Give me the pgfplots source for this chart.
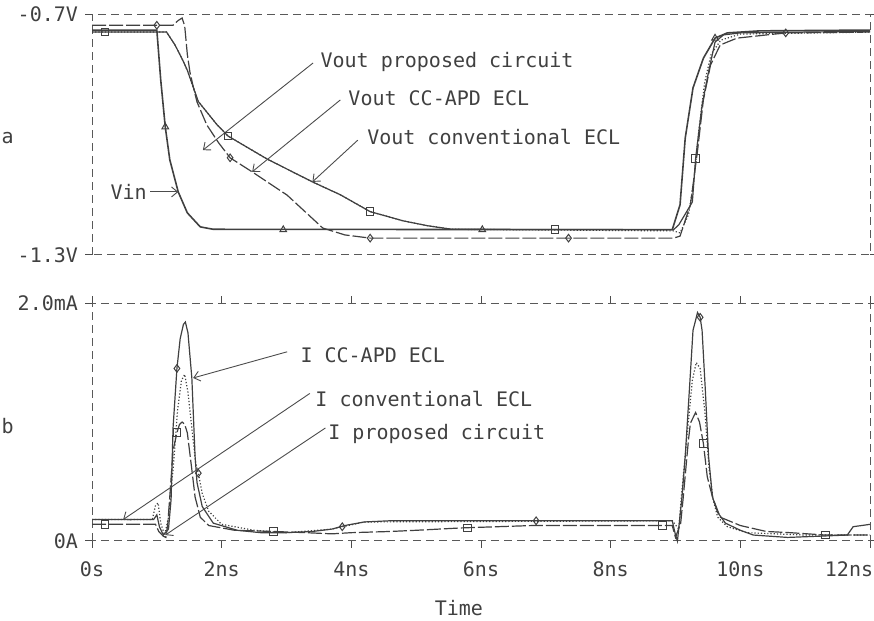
\documentclass[border=0pt]{standalone}
\usepackage{fontspec}
\setmainfont{DejaVu Sans Mono}
\usepackage{pgfplots}
\pgfplotsset{compat=1.18}
\usetikzlibrary{arrows.meta}

\newcommand{\psfont}{\fontsize{10}{12}\selectfont}

\pgfplotsset{
  psp/.style={
    scale only axis, width=389pt, xmin=0, xmax=12, clip=false,
    anchor=south west,
    axis line style={draw=none},
    tick align=outside, major tick length=3.5pt,
    tick style={black!70, line width=0.5pt},
    ticklabel style={font=\psfont, text=black!75},
  },
}
\tikzset{
  trace/.style={black!75, line width=0.6pt},
  pts/.style={black!75, mark size=1.9pt,
    mark options={solid, line width=0.5pt, fill=white}},
  lbl/.style={anchor=base west, inner sep=0pt, font=\psfont, text=black!75},
  ann/.style={black!70, line width=0.45pt, -{Straight Barb[length=3pt,width=5pt]}},
}

\begin{document}
\begin{tikzpicture}
\useasboundingbox (0,0) rectangle (437pt,310.5pt);

% ---- panel a : voltages
\begin{axis}[psp, at={(46pt,183pt)}, height=120.5pt,
  ymin=-1.3, ymax=-0.7, xtick=\empty,
  ytick={-1.3,-0.7}, yticklabels={-1.3V,-0.7V}]
\draw[black!65, line width=0.5pt, dash pattern=on 4pt off 2.5pt]
  (rel axis cs:0,0) rectangle (rel axis cs:1,1);

% Vin
\addplot[trace, mark=none, line width=0.8pt] coordinates {
 (0,-0.740) (1.00,-0.740) (1.06,-0.864) (1.13,-0.981) (1.20,-1.063)
 (1.33,-1.143) (1.47,-1.195) (1.67,-1.230) (1.87,-1.236) (8.95,-1.237)
 (9.07,-1.175) (9.15,-1.009) (9.27,-0.884) (9.43,-0.810) (9.61,-0.760)
 (9.80,-0.747) (10.3,-0.742) (12,-0.740)};
\addplot[pts, only marks, mark=triangle] coordinates {
 (1.13,-0.981) (2.95,-1.237) (6.02,-1.237) (9.61,-0.760)};

% Vout (squares)
\addplot[trace, mark=none] coordinates {
 (0,-0.745) (1.15,-0.745) (1.28,-0.777) (1.40,-0.815) (1.47,-0.840)
 (1.64,-0.918) (1.93,-0.976) (2.10,-1.004) (2.70,-1.061) (3.40,-1.118)
 (3.83,-1.150) (4.29,-1.192) (4.80,-1.215) (5.17,-1.227) (5.55,-1.236)
 (8.97,-1.237) (9.05,-1.225) (9.18,-1.190) (9.26,-1.168) (9.31,-1.060)
 (9.41,-0.927) (9.51,-0.844) (9.61,-0.770) (9.74,-0.752) (10.0,-0.747)
 (12,-0.743)};
\addplot[pts, only marks, mark=square] coordinates {
 (0.2,-0.745) (2.10,-1.004) (4.29,-1.192) (7.14,-1.237) (9.31,-1.060)};

% Vout (diamonds)
\addplot[trace, mark=none, dash pattern=on 7pt off 1.5pt] coordinates {
 (0,-0.728) (1.25,-0.728) (1.33,-0.716) (1.39,-0.710) (1.43,-0.730)
 (1.47,-0.800) (1.51,-0.844) (1.56,-0.880) (1.62,-0.919) (1.77,-0.976)
 (1.95,-1.020) (2.13,-1.058) (2.47,-1.093) (3.01,-1.151) (3.56,-1.233)
 (3.90,-1.250) (4.29,-1.258) (8.97,-1.258) (9.07,-1.253) (9.23,-1.175)
 (9.34,-1.040) (9.43,-0.914) (9.54,-0.827) (9.69,-0.777) (9.95,-0.760)
 (10.7,-0.747) (12,-0.745)};
\addplot[pts, only marks, mark=diamond] coordinates {
 (1.0,-0.728) (2.13,-1.058) (4.29,-1.258) (7.35,-1.258) (10.7,-0.747)};

% Vout (dotted)
\addplot[trace, mark=none, densely dotted] coordinates {
 (0,-0.745) (1.15,-0.745) (1.28,-0.777) (1.40,-0.815) (1.47,-0.840)
 (1.64,-0.918) (1.93,-0.976) (2.10,-1.004) (2.70,-1.061) (3.40,-1.118)
 (3.83,-1.150) (4.29,-1.192) (4.80,-1.215) (5.17,-1.227) (5.55,-1.236)
 (8.97,-1.240) (9.07,-1.245) (9.20,-1.200) (9.28,-1.120) (9.36,-0.990)
 (9.45,-0.870) (9.55,-0.800) (9.70,-0.765) (10.0,-0.750) (12,-0.745)};

\node[lbl] at (axis cs:3.52,-0.834) {Vout proposed circuit};
\node[lbl] at (axis cs:3.95,-0.929) {Vout CC-APD ECL};
\node[lbl] at (axis cs:4.24,-1.026) {Vout conventional ECL};
\node[lbl] at (axis cs:0.28,-1.163) {Vin};
\draw[ann] (axis cs:3.41,-0.822) -- (axis cs:1.71,-1.039);
\draw[ann] (axis cs:3.83,-0.914) -- (axis cs:2.47,-1.093);
\draw[ann] (axis cs:4.10,-1.014) -- (axis cs:3.40,-1.118);
\draw[ann] (axis cs:0.90,-1.143) -- (axis cs:1.33,-1.143);
\node[font=\psfont, text=black!75] at (axis cs:-1.30,-1.009) {a};
\end{axis}

% ---- panel b : currents
\begin{axis}[psp, at={(46pt,40pt)}, height=119pt,
  ymin=0, ymax=2, ytick={0,2}, yticklabels={0A,2.0mA},
  xtick={0,2,4,6,8,10}, xticklabels={0s,2ns,4ns,6ns,8ns,10ns},
  extra x ticks={12}, extra x tick labels={12ns},
  extra x tick style={xticklabel style={xshift=-10.5pt}},
  xticklabel style={yshift=-3.5pt}]
\draw[black!65, line width=0.5pt, dash pattern=on 4pt off 2.5pt]
  (rel axis cs:0,0) rectangle (rel axis cs:1,1);

% I CC-APD (diamonds)
\addplot[trace, mark=none] coordinates {
 (0,0.18) (0.95,0.18) (1.00,0.22) (1.04,0.12) (1.10,0.05) (1.18,0.10)
 (1.22,0.35) (1.25,0.95) (1.31,1.45) (1.36,1.70) (1.41,1.82) (1.44,1.84)
 (1.48,1.75) (1.54,1.37) (1.59,0.71) (1.62,0.49) (1.70,0.29) (1.87,0.15)
 (2.24,0.09) (2.60,0.07) (3.00,0.07) (3.40,0.08) (3.70,0.10) (3.90,0.13)
 (4.20,0.16) (4.60,0.17) (8.95,0.17) (9.00,0.05) (9.03,0.00) (9.10,0.37)
 (9.15,0.71) (9.23,1.41) (9.27,1.77) (9.34,1.92) (9.38,1.88) (9.41,1.77)
 (9.46,1.27) (9.51,0.71) (9.57,0.37) (9.65,0.24) (9.77,0.15) (10.0,0.09)
 (10.2,0.05) (10.73,0.03) (11.2,0.04) (11.65,0.05) (11.74,0.12) (12,0.14)};
\addplot[pts, only marks, mark=diamond] coordinates {
 (1.31,1.45) (3.86,0.12) (6.85,0.17) (9.38,1.88)};

% I proposed (squares)
\addplot[trace, mark=none, dash pattern=on 7pt off 1.5pt] coordinates {
 (0,0.14) (0.98,0.14) (1.03,0.08) (1.10,0.04) (1.14,0.03) (1.17,0.15)
 (1.21,0.45) (1.25,0.76) (1.31,0.91) (1.35,0.98) (1.39,1.00) (1.43,0.98)
 (1.47,0.91) (1.54,0.60) (1.59,0.37) (1.67,0.20) (1.80,0.13) (2.20,0.09)
 (2.80,0.08) (3.30,0.07) (3.70,0.06) (4.00,0.07) (4.60,0.08) (5.00,0.09)
 (5.70,0.11) (6.80,0.13) (8.95,0.13) (9.00,0.03) (9.08,0.15) (9.12,0.37)
 (9.20,0.85) (9.23,0.99) (9.31,1.08) (9.37,1.00) (9.43,0.82) (9.49,0.54)
 (9.57,0.37) (9.69,0.20) (10.0,0.13) (10.4,0.08) (10.77,0.07) (11.31,0.05)
 (12,0.05)};
\addplot[pts, only marks, mark=square] coordinates {
 (0.2,0.14) (1.31,0.91) (2.80,0.08) (5.79,0.11) (8.80,0.13) (9.43,0.82)
 (11.31,0.05)};

% I conventional (dotted)
\addplot[trace, mark=none, densely dotted] coordinates {
 (0,0.18) (0.93,0.18) (0.98,0.30) (1.02,0.32) (1.06,0.15) (1.12,0.05)
 (1.18,0.20) (1.25,0.60) (1.32,1.10) (1.38,1.35) (1.43,1.40) (1.48,1.25)
 (1.54,0.95) (1.60,0.65) (1.64,0.57) (1.70,0.40) (1.80,0.25) (2.00,0.14)
 (2.50,0.09) (3.00,0.07) (3.70,0.10) (4.20,0.16) (8.95,0.17) (9.05,0.10)
 (9.09,0.37) (9.18,0.90) (9.26,1.35) (9.32,1.50) (9.38,1.45) (9.45,1.10)
 (9.52,0.60) (9.58,0.35) (9.65,0.20) (9.80,0.12) (10.1,0.07) (11,0.05)
 (12,0.05)};
\addplot[pts, only marks, mark=diamond] coordinates {(1.64,0.57)};

\node[lbl] at (axis cs:3.21,1.50) {I CC-APD ECL};
\node[lbl] at (axis cs:3.44,1.13) {I conventional ECL};
\node[lbl] at (axis cs:3.64,0.85) {I proposed circuit};
\draw[ann] (axis cs:3.01,1.59) -- (axis cs:1.56,1.37);
\draw[ann] (axis cs:3.36,1.24) -- (axis cs:0.48,0.18);
\draw[ann] (axis cs:3.60,0.95) -- (axis cs:1.13,0.05);
\node[font=\psfont, text=black!75] at (axis cs:-1.30,0.97) {b};
\node[font=\psfont, text=black!75] at (axis cs:5.66,-0.563) {Time};
\end{axis}
\end{tikzpicture}
\end{document}
